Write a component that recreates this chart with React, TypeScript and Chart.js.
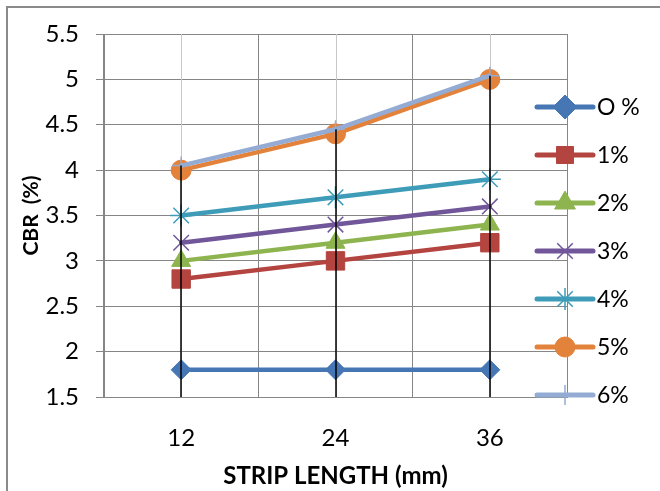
import React, { useEffect, useRef } from 'react';
import { Chart, registerables } from 'chart.js';
import { drawPoint } from 'chart.js/helpers';

Chart.register(...registerables);

// ---- data ----
const categories = ['12', '24', '36'];
const seriesNames = ['O %', '1%', '2%', '3%', '4%', '5%', '6%'];
const cbr0 = [1.8, 1.8, 1.8];
const cbr1 = [2.8, 3.0, 3.2];
const cbr2 = [3.0, 3.2, 3.4];
const cbr3 = [3.2, 3.4, 3.6];
const cbr4 = [3.5, 3.7, 3.9];
const cbr5 = [4.0, 4.4, 5.0];
const cbr6 = [4.05, 4.45, 5.04];
const yMin = 1.5;
const yMax = 5.5;
const yStep = 0.5;
const xTitle = 'STRIP LENGTH (mm)';
const yTitle = 'CBR  (%)';

// ---- styles ----
const colors = ['#4776B4', '#B4443F', '#8DB44E', '#71579A', '#3E9CB8', '#E3823B', '#94ABD3'];
const styles = ['rectRot', 'rect', 'triangle', 'crossRot', 'star', 'circle', 'cross'];
const radii = [10, 13, 11, 11, 11, 10, 9];
const legendRadii = [12, 12, 12, 11, 11, 10, 10];
const allSeries = [cbr0, cbr1, cbr2, cbr3, cbr4, cbr5, cbr6];
const FONT = 'Lato, "Open Sans", sans-serif';
const GRID = '#868686';

const gridExtras = {
  id: 'gridExtras',
  beforeDatasetsDraw(chart: any) {
    const { ctx, chartArea, scales } = chart;
    const x = scales.x;
    ctx.save();
    ctx.strokeStyle = '#C8C8C8';
    ctx.lineWidth = 1;
    categories.forEach((_, i) => {
      const px = Math.round(x.getPixelForValue(i)) + 0.5;
      ctx.beginPath();
      ctx.moveTo(px, chartArea.top);
      ctx.lineTo(px, chartArea.bottom);
      ctx.stroke();
    });
    ctx.restore();
  },
  afterDatasetsDraw(chart: any) {
    const { ctx, chartArea, scales } = chart;
    const x = scales.x;
    const y = scales.y;
    ctx.save();
    ctx.strokeStyle = '#000000';
    ctx.lineWidth = 1.5;
    categories.forEach((_, i) => {
      let top = chartArea.bottom;
      allSeries.forEach((s) => {
        top = Math.min(top, y.getPixelForValue(s[i]));
      });
      const px = Math.round(x.getPixelForValue(i));
      ctx.beginPath();
      ctx.moveTo(px, top);
      ctx.lineTo(px, chartArea.bottom);
      ctx.stroke();
    });
    ctx.restore();
  },
};

const lineLegend = {
  id: 'lineLegend',
  afterDraw(chart: any) {
    const { ctx } = chart;
    const x0 = 537;
    const x1 = 593;
    const xm = 565;
    const tx = 597;
    const y0 = 107;
    const dy = 48;
    ctx.save();
    seriesNames.forEach((name, i) => {
      const yy = y0 + i * dy;
      ctx.strokeStyle = colors[i];
      ctx.lineWidth = 5;
      ctx.lineCap = 'round';
      ctx.beginPath();
      ctx.moveTo(x0, yy);
      ctx.lineTo(x1, yy);
      ctx.stroke();
      ctx.lineCap = 'butt';
      ctx.fillStyle = colors[i];
      ctx.strokeStyle = colors[i];
      ctx.lineWidth = styles[i].startsWith('cross') || styles[i] === 'star' ? 1.5 : 1;
      drawPoint(ctx, { pointStyle: styles[i], radius: legendRadii[i], rotation: 0, borderWidth: 1 } as any, xm, yy);
      ctx.fillStyle = '#000000';
      ctx.font = `23px ${FONT}`;
      ctx.textAlign = 'left';
      ctx.textBaseline = 'middle';
      ctx.fillText(name, tx, yy + 1);
    });
    ctx.restore();
  },
};

export default function App() {
  const ref = useRef<HTMLCanvasElement | null>(null);

  useEffect(() => {
    if (!ref.current) return;
    const datasets = allSeries.map((s, i) => ({
      label: seriesNames[i],
      data: s,
      borderColor: colors[i],
      backgroundColor: colors[i],
      borderWidth: 4.5,
      borderCapStyle: 'round' as const,
      borderJoinStyle: 'round' as const,
      pointStyle: styles[i] as any,
      pointRadius: radii[i],
      pointBorderWidth: styles[i].startsWith('cross') || styles[i] === 'star' ? 1.5 : 1,
      pointBackgroundColor: colors[i],
      pointBorderColor: colors[i],
      fill: false,
      tension: 0,
      order: allSeries.length - 1 - i,
    }));
    const chart = new Chart(ref.current, {
      type: 'line',
      data: { labels: categories, datasets },
      options: {
        responsive: false,
        animation: false,
        devicePixelRatio: 1,
        events: [],
        layout: { padding: { top: 34, right: 93, bottom: 0, left: 0 } },
        plugins: {
          legend: { display: false },
          tooltip: { enabled: false },
          title: { display: false },
        },
        scales: {
          x: {
            type: 'category',
            offset: true,
            grid: {
              offset: true,
              color: GRID,
              lineWidth: 1,
              drawTicks: false,
            },
            border: { display: true, color: GRID, width: 1 },
            ticks: {
              color: '#000000',
              font: { family: FONT, size: 24 },
              padding: 27,
            },
            title: {
              display: true,
              text: xTitle,
              color: '#000000',
              font: { family: FONT, size: 24, weight: 'bold' },
              padding: { top: 0, bottom: 0 },
            },
            afterFit(axis: any) {
              axis.height = 94;
            },
          },
          y: {
            min: yMin,
            max: yMax,
            ticks: {
              stepSize: yStep,
              color: '#000000',
              font: { family: FONT, size: 24 },
              padding: 17,
              callback: (v: any) => `${Number(Number(v).toFixed(1))}`,
            },
            grid: {
              color: GRID,
              lineWidth: 1,
              drawTicks: true,
              tickLength: 8,
            },
            border: { display: true, color: GRID, width: 1 },
            title: {
              display: true,
              text: yTitle,
              color: '#000000',
              font: { family: FONT, size: 21, weight: 'bold' },
              padding: { top: 19, bottom: 0 },
            },
            afterFit(axis: any) {
              axis.width = 104;
            },
          },
        },
      },
      plugins: [gridExtras, lineLegend],
    });
    return () => chart.destroy();
  }, []);

  return (
    <div
      style={{
        position: 'fixed',
        left: 0,
        top: 0,
        width: 660,
        height: 491,
        overflow: 'hidden',
        background: '#ffffff',
      }}
    >
      <div
        style={{
          position: 'absolute',
          left: 6,
          top: 6,
          width: 720,
          height: 560,
          border: '2px solid #8A8A8A',
        }}
      />
      <canvas
        ref={ref}
        width={660}
        height={491}
        style={{ position: 'absolute', left: 0, top: 0, width: 660, height: 491 }}
      />
    </div>
  );
}
